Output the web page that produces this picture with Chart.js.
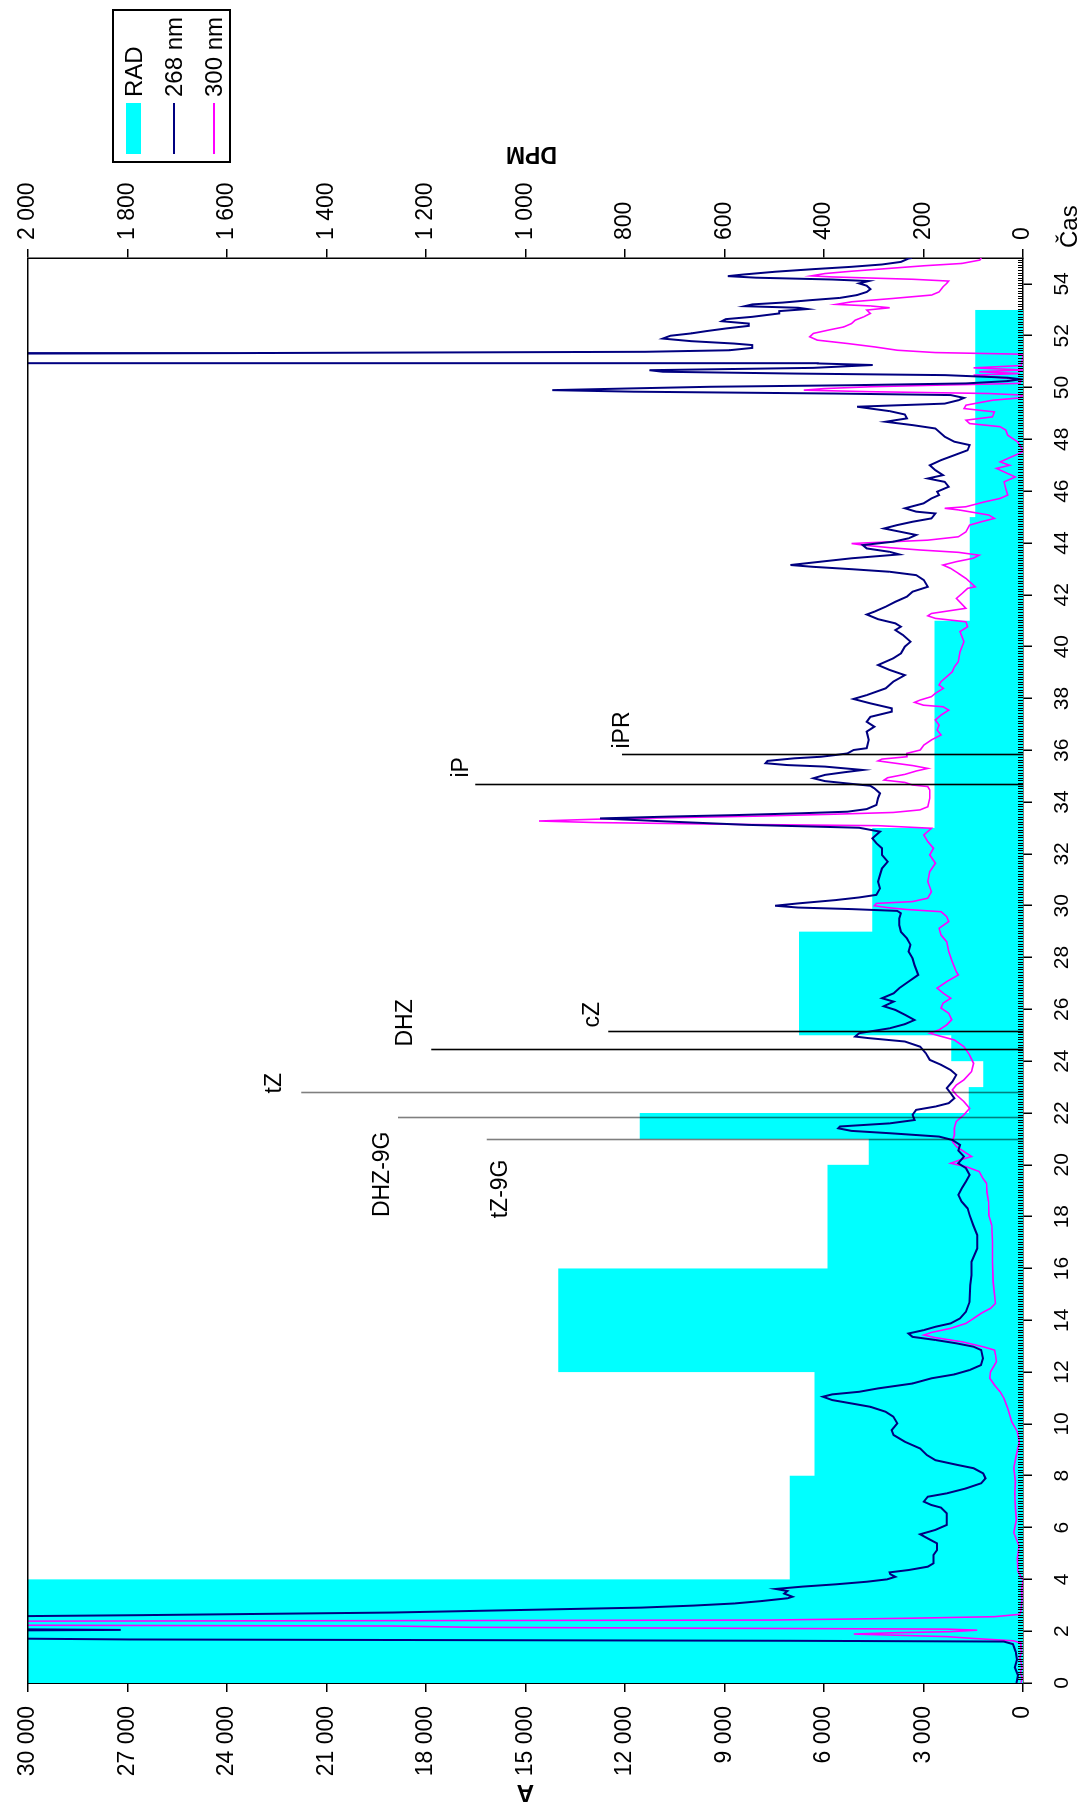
<!DOCTYPE html>
<html>
<head>
<meta charset="utf-8">
<style>
  body { margin: 0; background: #fff; }
  #page { position: relative; width: 1085px; height: 1807px; overflow: hidden; background: #fff; }
  /* the chart is drawn lying down and then turned a quarter turn left */
  #rot { position: absolute; left: 0; top: 0; width: 1807px; height: 1085px;
         transform-origin: 0 0; transform: translateY(1807px) rotate(-90deg); }
  #chart { position: absolute; left: 0; top: 0; }
  .legend { position: absolute; left: 1644px; top: 112px; width: 150px; height: 115px;
            border: 2px solid #000; background: #fff;
            font: 24px "Liberation Sans", Arial, sans-serif; color: #000; }
  .legend .row { position: absolute; left: 0; width: 150px; height: 28px; }
  .legend .sym { position: absolute; left: 7px; width: 51px; }
  .legend .lbl { position: absolute; left: 64px; top: 0; line-height: 28px; white-space: nowrap; }
</style>
</head>
<body>
<script src="https://cdn.jsdelivr.net/npm/chart.js@4.4.1/dist/chart.umd.min.js"></script>
<div id="page">
  <div id="rot">
    <canvas id="chart" width="1807" height="1085"></canvas>
    <div class="legend">
      <div class="row" style="top:6px"><div class="sym" style="top:6px;height:15px;background:#00ffff"></div><div class="lbl">RAD</div></div>
      <div class="row" style="top:46px"><div class="sym" style="top:13px;height:1.5px;background:#000080"></div><div class="lbl">268 nm</div></div>
      <div class="row" style="top:86px"><div class="sym" style="top:13px;height:1.5px;background:#ff00ff"></div><div class="lbl">300 nm</div></div>
    </div>
  </div>
</div>
<script>
  // radioactivity fractions (DPM), bin edges in minutes
  const radEdges = [0, 4, 8, 12, 16, 20, 21, 22, 23, 24, 25, 29, 33, 41, 45, 53];
  const radValues = [2200, 469, 419, 934, 393, 310, 770, 109, 80, 144, 450, 303, 178, 107, 96];

  // absorbance trace 268 nm
  const time268 = [0, 0.3, 0.6, 0.9, 1.2, 1.5, 1.6, 1.63, 1.68, 1.75, 2.0, 2.05, 2.1, 2.55, 2.62, 2.72, 2.84, 2.91, 2.99, 3.07,
    3.16, 3.27, 3.33, 3.45, 3.55, 3.63, 3.72, 3.81, 3.91, 4.0, 4.1, 4.2, 4.27, 4.36, 4.49, 4.62, 4.94, 5.13, 5.39, 5.58,
    5.74, 5.91, 6.1, 6.55, 6.77, 6.87, 7.0, 7.19, 7.32, 7.51, 7.71, 7.9, 8.09, 8.29, 8.41, 8.6, 8.8, 9.05, 9.31, 9.57,
    9.76, 10.02, 10.28, 10.47, 10.66, 10.79, 10.92, 11.05, 11.14, 11.24, 11.37, 11.56, 11.76, 11.91, 12.08, 12.27, 12.53, 12.85, 12.98, 13.11,
    13.24, 13.36, 13.49, 13.62, 13.75, 13.88, 14.07, 14.33, 14.71, 15.36, 15.74, 16.26, 16.77, 17.29, 17.67, 18.06, 18.32, 18.58, 18.84, 19.1,
    19.35, 19.61, 19.87, 20.06, 20.32, 20.55, 20.77, 20.96, 21.09, 21.22, 21.31, 21.41, 21.48, 21.6, 21.73, 21.93, 22.12, 22.25, 22.38, 22.57,
    22.76, 22.96, 23.21, 23.47, 23.66, 23.86, 24.05, 24.31, 24.56, 24.76, 24.89, 24.95, 25.08, 25.27, 25.43, 25.59, 25.79, 25.98, 26.12, 26.3,
    26.43, 26.62, 26.82, 27.07, 27.33, 27.71, 27.97, 28.23, 28.49, 28.74, 28.99, 29.25, 29.51, 29.71, 29.8, 29.87, 29.93, 30.0, 30.09, 30.22,
    30.32, 30.42, 30.67, 30.93, 31.19, 31.44, 31.7, 31.96, 32.22, 32.41, 32.6, 32.86, 33.01, 33.12, 33.25, 33.37, 33.44, 33.5, 33.57, 33.63,
    33.73, 33.89, 34.15, 34.34, 34.53, 34.63, 34.72, 34.81, 34.92, 35.05, 35.15, 35.24, 35.37, 35.43, 35.5, 35.59, 35.69, 35.75, 35.82, 35.88,
    36.01, 36.08, 36.4, 36.72, 36.91, 37.1, 37.29, 37.49, 37.62, 37.81, 37.98, 38.13, 38.39, 38.65, 38.9, 39.1, 39.29, 39.55, 39.74, 40.0,
    40.19, 40.45, 40.64, 40.77, 40.9, 41.06, 41.24, 41.35, 41.54, 41.73, 41.93, 42.12, 42.31, 42.57, 42.76, 42.89, 42.99, 43.08, 43.15, 43.28,
    43.41, 43.56, 43.66, 43.79, 43.92, 44.05, 44.18, 44.31, 44.43, 44.56, 44.69, 44.82, 44.95, 45.14, 45.21, 45.34, 45.53, 45.72, 45.85, 45.98,
    46.17, 46.36, 46.49, 46.62, 46.81, 47.0, 47.2, 47.39, 47.58, 47.78, 47.91, 48.1, 48.42, 48.55, 48.68, 48.81, 48.96, 49.09, 49.19, 49.26,
    49.38, 49.51, 49.6, 49.71, 49.77, 49.84, 49.9, 49.96, 50.03, 50.09, 50.16, 50.25, 50.32, 50.38, 50.48, 50.54, 50.61, 50.67, 50.76, 50.87,
    50.93, 50.94, 51.1, 51.3, 51.33, 51.38, 51.44, 51.53, 51.64, 51.7, 51.79, 51.89, 52.0, 52.09, 52.18, 52.28, 52.38, 52.47, 52.56, 52.64,
    52.73, 52.86, 52.95, 53.03, 53.08, 53.14, 53.21, 53.28, 53.37, 53.46, 53.57, 53.69, 53.8, 53.93, 54.02, 54.11, 54.17, 54.24, 54.3, 54.36,
    54.47, 54.57, 54.66, 54.75, 54.85, 54.98, 55.0];
  const abs268 = [200, 150, 250, 180, 220, 300, 580, 7100, 26900, 34000, 35000, 27200, 34000, 33000, 26500, 19000, 14300, 11500, 9900, 8700,
    7900, 7100, 6950, 7200, 7100, 7450, 6650, 5630, 4700, 4100, 3850, 4000, 4020, 3450, 2870, 2700, 2700, 2590, 2590, 2870,
    3100, 2640, 2300, 2300, 2470, 2760, 2990, 2870, 2300, 1720, 1260, 1130, 1200, 1490, 1950, 2640, 2900, 3100, 3560, 3900,
    3960, 3790, 3910, 4140, 4600, 5170, 5750, 6030, 5750, 4940, 4370, 3330, 2760, 2070, 1610, 1270, 1210, 1260, 1490, 2010,
    2640, 3330, 3450, 2990, 2640, 2180, 1900, 1720, 1610, 1590, 1550, 1550, 1380, 1380, 1500, 1610, 1670, 1850, 1950, 1840,
    1720, 1610, 1720, 1950, 1780, 1950, 1900, 2130, 2530, 4020, 5170, 5570, 5520, 4020, 3270, 3330, 3220, 2640, 2240, 2070,
    2180, 2300, 2130, 2010, 2180, 2470, 2810, 2930, 3100, 3560, 4650, 5060, 4940, 4020, 3560, 3270, 3560, 3850, 4200, 3900,
    4250, 3900, 3730, 3450, 3160, 3270, 3330, 3450, 3390, 3500, 3680, 3730, 3730, 3680, 3790, 5170, 6780, 7470, 6780, 5630,
    4940, 4420, 4310, 4370, 4310, 4250, 4080, 4250, 4250, 4420, 4540, 4310, 4940, 8270, 10700, 12750, 10690, 8620, 6660, 5290,
    4710, 4420, 4370, 4310, 4480, 4600, 5290, 5970, 6320, 5970, 5400, 4830, 5970, 7120, 7760, 7700, 6890, 6090, 5630, 5290,
    5110, 4710, 4650, 4710, 4480, 4710, 4600, 3960, 3960, 4600, 5110, 4710, 4140, 3910, 3560, 4020, 4370, 3910, 3680, 3560,
    3390, 3620, 3850, 3680, 3850, 4370, 4710, 4480, 4140, 3850, 3500, 3330, 2870, 2990, 3220, 4020, 5170, 6320, 7010, 6090,
    5170, 3730, 4020, 4710, 4830, 3910, 3450, 3220, 3680, 4190, 3800, 3330, 2760, 2640, 3220, 3560, 3000, 2760, 2530, 2590,
    2240, 2360, 2870, 2410, 2640, 2810, 2470, 2070, 1670, 1610, 2070, 2360, 2640, 3330, 4140, 3500, 3560, 4020, 4600, 5000,
    2360, 1950, 1780, 2180, 5750, 11720, 14190, 12060, 9420, 5170, 1720, 460, 60, 460, 2360, 6890, 10860, 11260, 6320, 4530,
    6190, 34000, 38000, 34000, 23650, 11380, 8850, 8160, 8160, 8730, 10000, 10860, 10630, 10000, 9540, 8960, 8270, 8270, 9080, 8960,
    8160, 7350, 7350, 6500, 6780, 8390, 8160, 7240, 6430, 5520, 5000, 4710, 4600, 4710, 4940, 4650, 5750, 8040, 8900, 8450,
    7470, 6320, 5170, 4250, 3680, 3450, 3350];

  // absorbance trace 300 nm
  const time300 = [0, 0.2, 0.4, 0.6, 0.8, 1.0, 1.2, 1.4, 1.55, 1.63, 1.72, 1.79, 1.85, 1.89, 1.94, 1.98, 2.04, 2.08, 2.15, 2.2,
    2.24, 2.38, 2.43, 2.5, 2.56, 2.65, 2.8, 3.2, 3.6, 3.97, 4.3, 4.8, 5.3, 5.8, 6.3, 6.8, 7.3, 7.8, 8.3, 8.8,
    9.31, 9.7, 10.08, 10.6, 10.98, 11.24, 11.5, 11.76, 12.01, 12.4, 12.66, 12.85, 12.98, 13.17, 13.33, 13.43, 13.53, 13.69, 13.88, 14.07,
    14.27, 14.46, 14.65, 15.49, 16.26, 17.03, 17.67, 18.06, 18.58, 18.97, 19.29, 19.48, 19.74, 19.93, 20.06, 20.19, 20.32, 20.51, 20.7, 20.9,
    21.15, 21.41, 21.67, 21.93, 22.18, 22.44, 22.7, 22.89, 23.08, 23.28, 23.6, 23.92, 24.24, 24.56, 24.82, 24.98, 25.08, 25.21, 25.4, 25.6,
    25.85, 26.05, 26.24, 26.43, 26.62, 26.82, 27.07, 27.33, 27.46, 27.84, 28.23, 28.61, 28.87, 29.13, 29.39, 29.58, 29.77, 29.86, 29.93, 30.0,
    30.09, 30.16, 30.29, 30.54, 30.93, 31.32, 31.64, 31.96, 32.22, 32.47, 32.73, 32.99, 33.09, 33.14, 33.21, 33.27, 33.34, 33.4, 33.46, 33.53,
    33.6, 33.7, 33.82, 34.15, 34.47, 34.6, 34.66, 34.76, 34.85, 34.94, 35.07, 35.2, 35.3, 35.41, 35.5, 35.59, 35.66, 35.75, 35.88, 36.01,
    36.2, 36.4, 36.59, 36.78, 36.97, 37.17, 37.36, 37.55, 37.68, 37.74, 37.85, 37.94, 38.07, 38.2, 38.39, 38.52, 38.65, 38.84, 39.03, 39.22,
    39.42, 39.8, 40.19, 40.58, 40.77, 40.96, 41.09, 41.19, 41.28, 41.48, 41.86, 42.05, 42.25, 42.31, 42.63, 42.83, 43.02, 43.15, 43.28, 43.41,
    43.53, 43.64, 43.73, 43.82, 43.92, 43.98, 44.11, 44.24, 44.43, 44.69, 44.82, 44.95, 45.08, 45.27, 45.34, 45.4, 45.59, 45.72, 45.85, 46.1,
    46.36, 46.55, 46.68, 46.88, 47.0, 47.13, 47.33, 47.52, 47.71, 47.91, 48.16, 48.36, 48.49, 48.61, 48.74, 48.87, 49.06, 49.19, 49.32, 49.51,
    49.6, 49.71, 49.77, 49.84, 49.9, 49.96, 50.03, 50.09, 50.16, 50.3, 50.48, 50.54, 50.61, 50.68, 50.76, 50.85, 51.0, 51.25, 51.29, 51.35,
    51.44, 51.57, 51.7, 51.83, 51.96, 52.09, 52.22, 52.34, 52.47, 52.6, 52.73, 52.86, 52.99, 53.08, 53.15, 53.21, 53.31, 53.44, 53.57, 53.69,
    53.89, 54.02, 54.11, 54.18, 54.27, 54.31, 54.4, 54.49, 54.6, 54.7, 54.79, 54.92, 55.0];
  const abs300 = [60, 20, 80, 30, 60, 100, 40, 70, 60, 300, 1500, 2300, 4000, 5100, 3900, 2200, 1380, 2300, 16600, 19000,
    34000, 34000, 7580, 3390, 860, 100, 60, 30, 40, 0, 150, 170, 120, 280, 200, 230, 250, 230, 280, 200,
    110, 170, 340, 460, 570, 690, 860, 1000, 980, 800, 830, 860, 1210, 1840, 2640, 2990, 2760, 2180, 1720, 1490,
    1260, 980, 830, 900, 920, 920, 940, 1030, 1040, 1090, 1100, 1210, 1320, 1720, 2180, 1900, 1550, 1780, 2000, 2130,
    2070, 2070, 2010, 1780, 1610, 1780, 2010, 2130, 2010, 1780, 1550, 1490, 1610, 1780, 2070, 2530, 2810, 2530, 2300, 2150,
    2240, 2470, 2410, 2180, 2400, 2590, 2300, 1950, 2010, 2130, 2240, 2300, 2470, 2530, 2240, 2300, 2470, 3560, 4100, 4480,
    4420, 3330, 2870, 2760, 2870, 2810, 2640, 2810, 2700, 2870, 2990, 2760, 4370, 8620, 12870, 14590, 12870, 10460, 7930, 5750,
    3910, 3100, 2870, 2810, 2810, 2870, 3330, 3560, 4190, 4080, 3560, 3220, 2870, 3330, 3850, 4370, 4250, 3500, 3500, 3100,
    2990, 2760, 2470, 2590, 2530, 2640, 2470, 2240, 2410, 3000, 3270, 3100, 2760, 2640, 2400, 2530, 2470, 2300, 2130, 2070,
    1950, 1900, 1780, 1900, 1670, 1720, 2640, 2870, 2760, 1720, 2010, 1840, 1670, 1440, 1720, 1950, 2180, 2410, 2010, 1500,
    1320, 1950, 3100, 4020, 4830, 5170, 2870, 1950, 1720, 1610, 1260, 860, 1030, 1900, 2360, 1720, 1150, 690, 460, 520,
    570, 230, 460, 800, 400, 690, 340, 0, 60, 170, 460, 520, 690, 1610, 1720, 920, 860, 1780, 1720, 920,
    100, 0, 1030, 4600, 6610, 6000, 4600, 2640, 100, 50, 1490, 100, 1320, 0, 1490, 50, 30, 0, 110, 2640,
    3790, 4480, 5290, 6200, 6430, 6320, 5860, 5400, 5170, 5060, 4800, 4600, 4710, 4020, 4600, 5630, 5170, 3910, 2760, 2530,
    2410, 2300, 2240, 3330, 5750, 6380, 5970, 5170, 4020, 2990, 1840, 1300, 1260];

  // marked peaks: retention time and height of the marker line (A)
  const annoNames = ["tZ-9G", "DHZ-9G", "tZ", "DHZ", "cZ", "iP", "iPR"];
  const annoTimes = [20.96, 21.8, 22.76, 24.42, 25.14, 34.66, 35.82];
  const annoHeights = [16165, 18843, 21754, 17838, 12501, 16511, 12088];

  // label placement next to each marker top: [align, dx, dy], and line tone
  const annoPlace = [["right", -20, 14], ["right", -14, -15], ["left", -1, -27], ["left", 3, -26],
                     ["left", 4, -16], ["left", 7, -14], ["left", 6, 1]];
  const annoFaint = [true, true, true, false, false, false, false];

  const fontFamily = '"Liberation Sans", Arial, Helvetica, sans-serif';
  const spaced = v => String(v).replace(/\B(?=(\d{3})+(?!\d))/g, ' ');

  function points(xs, ys) {
    return xs.map((x, i) => ({ x: x, y: ys[i] }));
  }

  const radPoints = radEdges.slice(0, -1).map((x, i) => ({ x: x, y: radValues[i] }));
  radPoints.push({ x: radEdges[radEdges.length - 1], y: radValues[radValues.length - 1] });
  radPoints.push({ x: radEdges[radEdges.length - 1], y: 0 });

  const extras = {
    id: 'extras',
    afterDatasetsDraw(chart) {
      const { ctx, scales: { x, y } } = chart;
      ctx.save();
      ctx.font = '23px ' + fontFamily;
      ctx.textBaseline = 'middle';
      annoNames.forEach((name, i) => {
        const px = Math.round(x.getPixelForValue(annoTimes[i])) + 0.5;
        const top = y.getPixelForValue(annoHeights[i]);
        ctx.strokeStyle = annoFaint[i] ? 'rgba(0,0,0,0.5)' : '#000';
        ctx.lineWidth = 1.6;
        ctx.beginPath();
        ctx.moveTo(px, y.getPixelForValue(0));
        ctx.lineTo(px, top);
        ctx.stroke();
        const p = annoPlace[i];
        ctx.fillStyle = '#000';
        ctx.textAlign = p[0];
        ctx.fillText(name, px + p[1], top + p[2]);
      });
      ctx.restore();
    },
    afterDraw(chart) {
      const { ctx, chartArea: a, scales: { x } } = chart;
      ctx.save();
      ctx.strokeStyle = '#000';
      // minor ticks on the time axis, pointing in
      ctx.lineWidth = 1;
      ctx.beginPath();
      for (let k = 1; k < 550; k++) {
        const px = Math.round(x.getPixelForValue(k / 10)) + 0.5;
        ctx.moveTo(px, a.bottom);
        ctx.lineTo(px, a.bottom - 5);
      }
      ctx.stroke();
      // top edge of the frame
      ctx.lineWidth = 1.5;
      ctx.beginPath();
      ctx.moveTo(a.left, a.top);
      ctx.lineTo(a.right, a.top);
      ctx.stroke();
      // axis titles
      ctx.fillStyle = '#000';
      ctx.textAlign = 'center';
      ctx.textBaseline = 'middle';
      ctx.font = 'bold 24px ' + fontFamily;
      ctx.save();
      ctx.translate(15, (a.top + a.bottom) / 2);
      ctx.rotate(-Math.PI / 2);
      ctx.fillText('A', 0, 0);
      ctx.restore();
      ctx.font = 'bold 23px ' + fontFamily;
      ctx.save();
      ctx.translate(1654, (a.top + a.bottom) / 2 + 6);
      ctx.rotate(-Math.PI / 2);
      ctx.fillText('DPM', 0, 0);
      ctx.restore();
      ctx.font = '24px ' + fontFamily;
      ctx.textAlign = 'left';
      ctx.fillText('Čas', a.right + 10, 1070);
      ctx.restore();
    }
  };

  const axisLine = { display: true, color: '#000', width: 1.5 };
  const tickMarks = { drawOnChartArea: false, drawTicks: true, tickLength: 9, color: '#000', lineWidth: 1.5 };

  new Chart(document.getElementById('chart'), {
    type: 'line',
    data: {
      datasets: [
        {
          label: '268 nm', data: points(time268, abs268), yAxisID: 'y', order: 1,
          borderColor: '#000080', borderWidth: 2, pointRadius: 0, tension: 0, fill: false
        },
        {
          label: '300 nm', data: points(time300, abs300), yAxisID: 'y', order: 2,
          borderColor: '#ff00ff', borderWidth: 1.6, pointRadius: 0, tension: 0, fill: false
        },
        {
          label: 'RAD', data: radPoints, yAxisID: 'y1', order: 3, stepped: 'before',
          borderColor: 'rgba(0,0,0,0)', borderWidth: 0, backgroundColor: '#00ffff',
          pointRadius: 0, fill: 'origin'
        }
      ]
    },
    options: {
      responsive: false,
      animation: false,
      events: [],
      layout: { padding: { top: 24, left: 0, right: 0, bottom: 0 } },
      plugins: { legend: { display: false }, tooltip: { enabled: false } },
      scales: {
        x: {
          type: 'linear', position: 'bottom', min: 0, max: 55,
          ticks: { stepSize: 2, includeBounds: false, autoSkip: false, maxRotation: 0, minRotation: 0,
                   padding: 18, color: '#000', font: { family: fontFamily, size: 21 } },
          grid: tickMarks, border: axisLine,
          afterFit: s => { s.height = 62; }
        },
        y: {
          position: 'left', min: 0, max: 30000,
          ticks: { stepSize: 3000, padding: 14, color: '#000', callback: spaced,
                   font: { family: fontFamily, size: 23 } },
          grid: tickMarks, border: axisLine,
          afterFit: s => { s.width = 124; }
        },
        y1: {
          position: 'right', min: 0, max: 2000,
          ticks: { stepSize: 200, padding: 9, color: '#000', callback: spaced,
                   font: { family: fontFamily, size: 23 } },
          grid: tickMarks, border: axisLine,
          afterFit: s => { s.width = 258; }
        }
      }
    },
    plugins: [extras]
  });
</script>
</body>
</html>
